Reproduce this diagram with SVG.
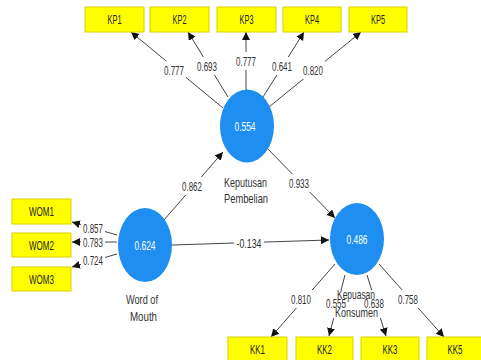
<svg xmlns="http://www.w3.org/2000/svg" width="481" height="360" viewBox="0 0 481 360">
<defs>
<marker id="ah" markerUnits="userSpaceOnUse" markerWidth="9" markerHeight="9" refX="8" refY="4" orient="auto">
<path d="M0,0 L8,4 L0,8 z" fill="#111"/>
</marker>
<style>
.box{fill:#ffff00;stroke:#d8d000;stroke-width:1}
.bt{font-family:"Liberation Sans",Arial,sans-serif;font-size:13px;fill:#222;text-anchor:middle}
.lv{fill:#1e8ff0}
.ct{font-family:"Liberation Sans",Arial,sans-serif;font-size:13px;fill:#fff;text-anchor:middle}
.nm{font-family:"Liberation Sans",Arial,sans-serif;font-size:13px;fill:#333;text-anchor:middle}
.ln{stroke:#444;stroke-width:1;fill:none;marker-end:url(#ah)}
.bg{fill:#fff}
.lb{font-family:"Liberation Sans",Arial,sans-serif;font-size:13px;fill:#333;text-anchor:middle}
</style>
</defs>
<rect width="481" height="360" fill="#fff"/>
<g id="connectors">
<line class="ln" x1="223" y1="108" x2="131" y2="32"/>
<line class="ln" x1="228" y1="97" x2="188" y2="32"/>
<line class="ln" x1="246" y1="90" x2="246" y2="32"/>
<line class="ln" x1="263" y1="97" x2="304" y2="32"/>
<line class="ln" x1="269" y1="107" x2="361" y2="32"/>
<line class="ln" x1="164" y1="220" x2="223" y2="152"/>
<line class="ln" x1="268" y1="149" x2="335" y2="218"/>
<line class="ln" x1="172" y1="245" x2="329" y2="240"/>
<line class="ln" x1="117" y1="235" x2="72" y2="222"/>
<line class="ln" x1="117" y1="242" x2="72" y2="242"/>
<line class="ln" x1="117" y1="254" x2="72" y2="267"/>
<line class="ln" x1="335" y1="264" x2="271" y2="337"/>
<line class="ln" x1="345" y1="275" x2="329" y2="336"/>
<line class="ln" x1="367" y1="275" x2="386" y2="336"/>
<line class="ln" x1="379" y1="264" x2="444" y2="337"/>
<g id="labels">
<rect class="bg" x="162" y="61" width="24" height="18"/>
<rect class="bg" x="195" y="57" width="24" height="18"/>
<rect class="bg" x="234" y="52" width="24" height="18"/>
<rect class="bg" x="270" y="57" width="24" height="18"/>
<rect class="bg" x="301" y="61" width="24" height="18"/>
<rect class="bg" x="180" y="177" width="24" height="18"/>
<rect class="bg" x="287" y="174" width="24" height="18"/>
<rect class="bg" x="234" y="236" width="30" height="14"/>
<rect class="bg" x="81" y="221" width="24" height="14"/>
<rect class="bg" x="81" y="236" width="24" height="13"/>
<rect class="bg" x="81" y="252" width="24" height="15"/>
<rect class="bg" x="289" y="290" width="24" height="18"/>
<rect class="bg" x="324" y="290" width="24" height="28"/>
<rect class="bg" x="362" y="290" width="24" height="28"/>
<rect class="bg" x="396" y="290" width="24" height="18"/>
<text class="lb" x="174" y="74.5" textLength="20" lengthAdjust="spacingAndGlyphs">0.777</text>
<text class="lb" x="207" y="70.5" textLength="20" lengthAdjust="spacingAndGlyphs">0.693</text>
<text class="lb" x="246" y="65.5" textLength="20" lengthAdjust="spacingAndGlyphs">0.777</text>
<text class="lb" x="282" y="70.5" textLength="20" lengthAdjust="spacingAndGlyphs">0.641</text>
<text class="lb" x="313" y="74.5" textLength="20" lengthAdjust="spacingAndGlyphs">0.820</text>
<text class="lb" x="192" y="190.5" textLength="20" lengthAdjust="spacingAndGlyphs">0.862</text>
<text class="lb" x="299" y="187.5" textLength="20" lengthAdjust="spacingAndGlyphs">0.933</text>
<text class="lb" x="249" y="247.5" textLength="25" lengthAdjust="spacingAndGlyphs">-0.134</text>
<text class="lb" x="93" y="232.5" textLength="20" lengthAdjust="spacingAndGlyphs">0.857</text>
<text class="lb" x="93" y="246.5" textLength="20" lengthAdjust="spacingAndGlyphs">0.783</text>
<text class="lb" x="93" y="264.5" textLength="20" lengthAdjust="spacingAndGlyphs">0.724</text>
<text class="lb" x="301" y="303.5" textLength="20" lengthAdjust="spacingAndGlyphs">0.810</text>
<text class="lb" x="336" y="307.5" textLength="20" lengthAdjust="spacingAndGlyphs">0.555</text>
<text class="lb" x="374" y="307.5" textLength="20" lengthAdjust="spacingAndGlyphs">0.638</text>
<text class="lb" x="408" y="303.5" textLength="20" lengthAdjust="spacingAndGlyphs">0.758</text>
</g>
</g>
<g id="KP1"><rect class="box" x="85" y="7" width="59" height="25"/><text class="bt" x="114.5" y="24" textLength="14" lengthAdjust="spacingAndGlyphs">KP1</text></g>
<g id="KP2"><rect class="box" x="150" y="7" width="59" height="25"/><text class="bt" x="179.5" y="24" textLength="14" lengthAdjust="spacingAndGlyphs">KP2</text></g>
<g id="KP3"><rect class="box" x="217" y="7" width="59" height="25"/><text class="bt" x="246.5" y="24" textLength="14" lengthAdjust="spacingAndGlyphs">KP3</text></g>
<g id="KP4"><rect class="box" x="283" y="7" width="58" height="25"/><text class="bt" x="312" y="24" textLength="14" lengthAdjust="spacingAndGlyphs">KP4</text></g>
<g id="KP5"><rect class="box" x="349" y="7" width="58" height="25"/><text class="bt" x="378" y="24" textLength="14" lengthAdjust="spacingAndGlyphs">KP5</text></g>
<g id="WOM1"><rect class="box" x="12" y="199" width="59" height="25"/><text class="bt" x="41.5" y="216" textLength="25" lengthAdjust="spacingAndGlyphs">WOM1</text></g>
<g id="WOM2"><rect class="box" x="12" y="233" width="59" height="24"/><text class="bt" x="41.5" y="249.5" textLength="25" lengthAdjust="spacingAndGlyphs">WOM2</text></g>
<g id="WOM3"><rect class="box" x="12" y="267" width="59" height="24"/><text class="bt" x="41.5" y="283.5" textLength="25" lengthAdjust="spacingAndGlyphs">WOM3</text></g>
<g id="KK1"><rect class="box" x="228" y="337" width="59" height="25"/><text class="bt" x="257.5" y="354" textLength="15" lengthAdjust="spacingAndGlyphs">KK1</text></g>
<g id="KK2"><rect class="box" x="296" y="337" width="57" height="25"/><text class="bt" x="324.5" y="354" textLength="15" lengthAdjust="spacingAndGlyphs">KK2</text></g>
<g id="KK3"><rect class="box" x="361" y="337" width="58" height="25"/><text class="bt" x="390" y="354" textLength="15" lengthAdjust="spacingAndGlyphs">KK3</text></g>
<g id="KK5"><rect class="box" x="427" y="337" width="56" height="25"/><text class="bt" x="455" y="354" textLength="15" lengthAdjust="spacingAndGlyphs">KK5</text></g>
<g id="KeputusanPembelian">
<ellipse class="lv" cx="247" cy="126" rx="27" ry="36.5"/>
<text class="ct" x="245" y="130.5" textLength="21" lengthAdjust="spacingAndGlyphs">0.554</text>
<text class="nm" x="245.5" y="186.5" textLength="43" lengthAdjust="spacingAndGlyphs">Keputusan</text>
<text class="nm" x="246" y="202.5" textLength="44" lengthAdjust="spacingAndGlyphs">Pembelian</text>
</g>
<g id="WordOfMouth">
<ellipse class="lv" cx="145" cy="245" rx="27" ry="37"/>
<text class="ct" x="145" y="249.5" textLength="21" lengthAdjust="spacingAndGlyphs">0.624</text>
<text class="nm" x="142" y="303.5" textLength="32" lengthAdjust="spacingAndGlyphs">Word of</text>
<text class="nm" x="143.5" y="320.5" textLength="27" lengthAdjust="spacingAndGlyphs">Mouth</text>
</g>
<g id="KepuasanKonsumen">
<ellipse class="lv" cx="357" cy="239" rx="27" ry="36"/>
<text class="ct" x="357" y="243.5" textLength="21" lengthAdjust="spacingAndGlyphs">0.486</text>
<text class="nm" x="356" y="298.5" textLength="38" lengthAdjust="spacingAndGlyphs">Kepuasan</text>
<text class="nm" x="356.5" y="316.5" textLength="43" lengthAdjust="spacingAndGlyphs">Konsumen</text>
</g>
</svg>
